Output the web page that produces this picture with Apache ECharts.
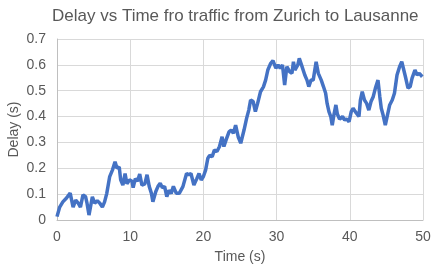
<!DOCTYPE html>
<html><head><meta charset="utf-8">
<script src="https://cdn.jsdelivr.net/npm/echarts@6/dist/echarts.min.js"></script>
<style>html,body{margin:0;padding:0;background:#fff}#c{width:440px;height:268px}</style>
</head><body><div id="c"></div>
<script>
var titleText = "Delay vs Time fro traffic from Zurich to Lausanne";
var xName = "Time (s)";
var yName = "Delay (s)";
var times = [0,0.37,0.8,1.3,1.8,2.2,2.55,2.9,3.2,3.55,3.9,4.1,4.37,4.6,4.83,5.15,5.5,5.85,6.2,6.5,6.8,7.2,7.57,7.93,8.2,8.5,8.7,9.0,9.3,9.55,9.9,10.25,10.4,10.7,11.0,11.3,11.6,12.0,12.3,12.6,12.9,13.1,13.5,13.8,14.1,14.4,14.7,15.0,15.3,15.6,15.9,16.3,16.7,17.2,17.7,18.0,18.3,18.7,19.1,19.4,19.7,20.0,20.3,20.6,20.85,21.2,21.5,21.85,22.2,22.55,22.8,23.1,23.5,23.8,24.1,24.4,24.75,25.1,25.3,25.55,25.9,26.2,26.45,26.8,27.1,27.4,27.8,28.2,28.5,28.8,29.2,29.5,29.9,30.2,30.5,30.8,31.1,31.4,31.8,32.1,32.3,32.5,32.9,33.1,33.4,33.85,34.15,34.4,34.7,35.0,35.4,35.7,36.1,36.4,36.7,36.9,37.15,37.4,37.6,37.85,38.1,38.3,38.6,39.0,39.3,39.6,39.9,40.2,40.45,40.75,41.0,41.25,41.45,41.7,42.0,42.3,42.6,42.9,43.2,43.5,43.85,44.1,44.3,44.55,44.85,45.1,45.45,45.8,46.1,46.45,46.8,47.1,47.35,47.6,47.95,48.25,48.5,48.9,49.2,49.5,49.9];
var delays = [0.013,0.05,0.07,0.085,0.104,0.05,0.077,0.065,0.05,0.097,0.09,0.065,0.019,0.025,0.09,0.065,0.075,0.065,0.05,0.07,0.103,0.168,0.193,0.225,0.2,0.205,0.155,0.135,0.18,0.14,0.155,0.15,0.125,0.16,0.15,0.178,0.135,0.14,0.175,0.13,0.103,0.071,0.11,0.13,0.142,0.125,0.13,0.09,0.115,0.103,0.13,0.103,0.103,0.129,0.18,0.175,0.18,0.135,0.16,0.18,0.155,0.168,0.193,0.238,0.25,0.245,0.27,0.265,0.284,0.322,0.284,0.31,0.341,0.348,0.335,0.367,0.322,0.297,0.29,0.348,0.393,0.425,0.464,0.458,0.419,0.45,0.496,0.515,0.541,0.58,0.606,0.616,0.587,0.6,0.587,0.6,0.522,0.593,0.573,0.567,0.612,0.58,0.6,0.625,0.6,0.561,0.541,0.516,0.541,0.541,0.612,0.567,0.541,0.516,0.49,0.451,0.419,0.4,0.367,0.41,0.445,0.41,0.39,0.4,0.387,0.39,0.38,0.419,0.432,0.419,0.425,0.4,0.464,0.496,0.464,0.451,0.425,0.458,0.477,0.51,0.541,0.477,0.432,0.406,0.367,0.4,0.445,0.464,0.49,0.561,0.593,0.612,0.606,0.554,0.51,0.516,0.548,0.58,0.561,0.567,0.554];
var pts = times.map(function(t,i){return [t, delays[i]];});
var chart = echarts.init(document.getElementById('c'));
var txt = '#595959', grid = '#d9d9d9', font = '"Liberation Sans", Arial, sans-serif';
chart.setOption({
  animation:false,
  title:{text:titleText,left:47,top:3,textStyle:{fontFamily:font,fontSize:17,fontWeight:'normal',color:txt}},
  grid:{left:57,right:17,top:39,bottom:48,containLabel:false,outerBoundsMode:'none'},
  xAxis:{type:'value',min:0,max:50,interval:10,name:xName,nameLocation:'middle',nameGap:30,nameMoveOverlap:false,
    nameTextStyle:{fontFamily:font,fontSize:14,color:txt},
    axisLine:{show:true,lineStyle:{color:'#bfbfbf'}},axisTick:{show:false},
    axisLabel:{fontFamily:font,fontSize:14,color:txt,margin:10},
    splitLine:{show:true,lineStyle:{color:grid}}},
  yAxis:{type:'value',min:0,max:0.7,interval:0.1,name:yName,nameLocation:'middle',nameGap:36,nameMoveOverlap:false,
    nameTextStyle:{fontFamily:font,fontSize:14,color:txt},
    axisLine:{show:true,lineStyle:{color:'#bfbfbf'}},axisTick:{show:false},
    axisLabel:{fontFamily:font,fontSize:14,color:txt,margin:11,formatter:function(v){return String(Math.round(v*10)/10);}},
    splitLine:{show:true,lineStyle:{color:grid}}},
  series:[{type:'line',data:pts,showSymbol:false,lineStyle:{color:'#4472C4',width:3.5},itemStyle:{color:'#4472C4'}}]
});
</script></body></html>
